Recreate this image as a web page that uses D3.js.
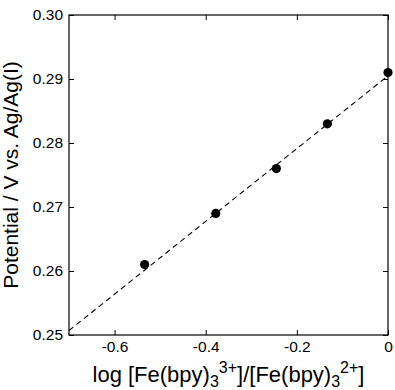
<!DOCTYPE html>
<html>
<head>
<meta charset="utf-8">
<script src="https://cdn.jsdelivr.net/npm/d3@7"></script>
<style>
  body { margin: 0; background: #fff; }
  svg text { font-family: "Liberation Sans", Arial, sans-serif; fill: #000; }
</style>
</head>
<body>
<svg id="chart" width="395" height="390"></svg>
<script>
// measured points
var logRatio = [-0.534, -0.378, -0.245, -0.133, 0]
var potential = [0.261, 0.269, 0.276, 0.283, 0.291]
// fit line end points
var fitX = [-0.7, 0]
var fitY = [0.2507, 0.2905]
var xTicks = [-0.6, -0.4, -0.2, 0]
var yTicks = [0.25, 0.26, 0.27, 0.28, 0.29, 0.30]

var margin = { left: 69, top: 15, right: 7, bottom: 55 }
var width = 395 - margin.left - margin.right
var height = 390 - margin.top - margin.bottom

var svg = d3.select("#chart")
  .append("g")
  .attr("transform", "translate(" + margin.left + "," + margin.top + ")")

var x = d3.scaleLinear().domain([-0.7, 0]).range([0, width])
var y = d3.scaleLinear().domain([0.25, 0.30]).range([height, 0])

var xFmt = function(d) { return d === 0 ? "0" : d.toFixed(1) }
var yFmt = function(d) { return d.toFixed(2) }

function styleAxis(g) {
  g.select(".domain").remove()
  g.selectAll("line").attr("stroke", "#000")
  g.selectAll("text").attr("font-size", "15.5px").attr("font-family", null)
}

svg.append("g")
  .attr("transform", "translate(0," + height + ")")
  .call(d3.axisBottom(x).tickValues(xTicks).tickFormat(xFmt).tickSize(-5).tickPadding(6))
  .call(styleAxis)
svg.append("g")
  .call(d3.axisTop(x).tickValues(xTicks).tickFormat("").tickSize(-5))
  .call(styleAxis)
svg.append("g")
  .call(d3.axisLeft(y).tickValues(yTicks).tickFormat(yFmt).tickSize(-5).tickPadding(6))
  .call(styleAxis)
svg.append("g")
  .attr("transform", "translate(" + width + ",0)")
  .call(d3.axisRight(y).tickValues(yTicks).tickFormat("").tickSize(-5))
  .call(styleAxis)

svg.append("rect")
  .attr("width", width)
  .attr("height", height)
  .attr("fill", "none")
  .attr("stroke", "#000")
  .attr("stroke-width", 1.2)

// fit line
var fit = fitX.map(function(v, i) { return [v, fitY[i]] })
svg.append("path")
  .datum(fit)
  .attr("d", d3.line().x(function(d) { return x(d[0]) }).y(function(d) { return y(d[1]) }))
  .attr("fill", "none")
  .attr("stroke", "#000")
  .attr("stroke-width", 1.1)
  .attr("stroke-dasharray", "5.5,4")

var pts = logRatio.map(function(v, i) { return [v, potential[i]] })
svg.selectAll("circle.pt")
  .data(pts)
  .enter()
  .append("circle")
  .attr("class", "pt")
  .attr("cx", function(d) { return x(d[0]) })
  .attr("cy", function(d) { return y(d[1]) })
  .attr("r", 4.6)
  .attr("fill", "#000")

// axis titles
d3.select("#chart").append("text")
  .attr("text-anchor", "middle")
  .attr("transform", "translate(18," + (margin.top + height / 2) + ") rotate(-90)")
  .attr("font-size", "21px")
  .text("Potential / V vs. Ag/Ag(I)")

var xl = d3.select("#chart").append("text")
  .attr("text-anchor", "middle")
  .attr("x", margin.left + width / 2)
  .attr("y", 382)
  .attr("font-size", "22px")
xl.append("tspan").text("log [Fe(bpy)")
xl.append("tspan").attr("font-size", "16px").attr("dy", 5).text("3")
xl.append("tspan").attr("font-size", "16px").attr("dy", -14).text("3+")
xl.append("tspan").attr("dy", 9).text("]/[Fe(bpy)")
xl.append("tspan").attr("font-size", "16px").attr("dy", 5).text("3")
xl.append("tspan").attr("font-size", "16px").attr("dy", -14).text("2+")
xl.append("tspan").attr("dy", 9).text("]")
</script>
</body>
</html>
